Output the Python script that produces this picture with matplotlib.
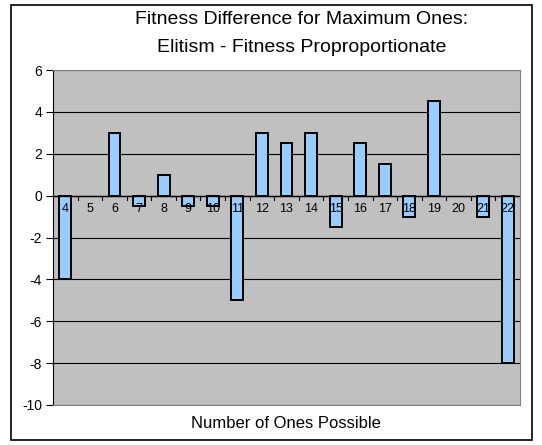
import matplotlib.pyplot as plt
from matplotlib.patches import Rectangle

plt.rcParams['font.family'] = ['Liberation Sans', 'DejaVu Sans']
plt.rcParams['axes.unicode_minus'] = False

# data
categories = [str(n) for n in range(4, 23)]
differences = [-4, 0, 3, -0.5, 1, -0.5, -0.5, -5, 3, 2.5, 3, -1.5, 2.5, 1.5, -1, 4.5, 0, -1, -8]
y_ticks = [-10, -8, -6, -4, -2, 0, 2, 4, 6]

fig = plt.figure(figsize=(5.42, 4.45), dpi=100)
ax = fig.add_axes([53 / 542, 1 - 405 / 445, (520 - 53) / 542, (405 - 70) / 445])

# outer chart border
fig.patches.append(Rectangle((11 / 542, 5 / 445), (532 - 11) / 542, (440 - 5) / 445,
                             transform=fig.transFigure, fill=False,
                             edgecolor='black', linewidth=1.2))

ax.set_facecolor('#c0c0c0')
for y in y_ticks:
    ax.axhline(y, color='black', linewidth=0.8, zorder=1)

x = list(range(len(categories)))
edge_widths = [0 if v == 0 else 1.4 for v in differences]
ax.bar(x, differences, width=0.48, color='#99ccff', edgecolor='black',
       linewidth=edge_widths, zorder=2)

ax.set_xlim(-0.5, len(categories) - 0.5)
ax.set_ylim(-10, 6)
ax.set_yticks(y_ticks)
ax.tick_params(axis='y', direction='out', length=5, labelsize=10, pad=3)

# x tick marks sit on the zero line, labels just beneath it
ax.set_xticks([])
for i, lab in enumerate(categories):
    ax.text(i, -0.35, lab, ha='center', va='top', fontsize=9, zorder=3)
for i in range(len(categories) + 1):
    ax.plot([i - 0.5, i - 0.5], [0, -0.22], color='black', linewidth=0.8, zorder=3)
ax.axhline(0, color='black', linewidth=1.0, zorder=3)

for side in ['top', 'right', 'bottom']:
    ax.spines[side].set_color('#808080')
ax.spines['left'].set_color('black')

fig.text(302 / 542, 1 - 20 / 445, 'Fitness Difference for Maximum Ones:',
         ha='center', va='center', fontsize=14)
fig.text(302 / 542, 1 - 47 / 445, 'Elitism - Fitness Proproportionate',
         ha='center', va='center', fontsize=14)
fig.text(286 / 542, 1 - 424 / 445, 'Number of Ones Possible',
         ha='center', va='center', fontsize=12)

fig.savefig('out.png', dpi=100)
